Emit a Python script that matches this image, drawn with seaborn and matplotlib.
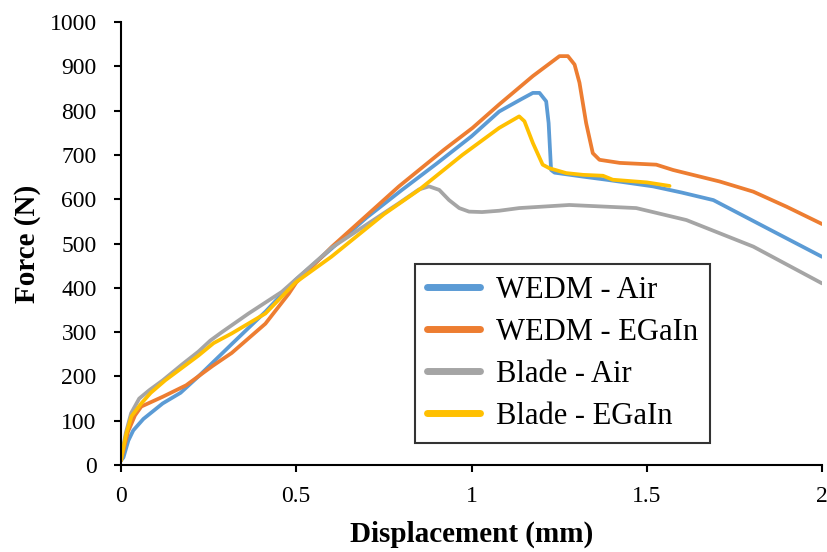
import matplotlib
matplotlib.use('Agg')
import matplotlib.pyplot as plt
import seaborn as sns
import pandas as pd

# values (displacement mm, force N)
wedm_air_x = [0.0, 0.007, 0.021, 0.035, 0.064, 0.119, 0.17, 0.221, 0.316, 0.412, 0.498, 0.6, 0.7, 0.8, 0.9, 1.0,
              1.079, 1.14, 1.175, 1.194, 1.213, 1.22, 1.227, 1.237, 1.318, 1.385, 1.518, 1.6, 1.69, 1.852, 2.0]
wedm_air_y = [10, 17, 55, 78, 104, 139, 163, 200, 273, 346, 418, 488, 558, 620, 680, 742,
              798, 825, 840, 840, 821, 772, 666, 660, 651, 644, 629, 615, 598, 531, 470]

wedm_egain_x = [0.0, 0.006, 0.02, 0.04, 0.058, 0.119, 0.186, 0.262, 0.316, 0.412, 0.479, 0.5, 0.602, 0.793,
                0.922, 1.003, 1.079, 1.175, 1.251, 1.275, 1.294, 1.308, 1.327, 1.346, 1.365, 1.423, 1.527,
                1.575, 1.708, 1.804, 1.899, 2.0]
wedm_egain_y = [10, 30, 75, 112, 132, 154, 180, 224, 253, 319, 387, 412, 493, 629,
                712, 761, 814, 878, 923, 923, 904, 863, 772, 704, 689, 682, 678,
                666, 640, 617, 583, 544]

blade_air_x = [0.0, 0.003, 0.014, 0.029, 0.052, 0.081, 0.119, 0.176, 0.221, 0.255, 0.288, 0.364, 0.459, 0.6,
               0.793, 0.85, 0.879, 0.908, 0.936, 0.965, 0.993, 1.03, 1.079, 1.136, 1.279, 1.47, 1.613, 1.804, 2.0]
blade_air_y = [10, 28, 73, 117, 150, 169, 191, 228, 256, 281, 300, 342, 391, 490,
               591, 622, 629, 621, 598, 580, 572, 571, 574, 580, 587, 580, 553, 493, 410]

blade_egain_x = [0.0, 0.004, 0.015, 0.03, 0.059, 0.085, 0.126, 0.221, 0.264, 0.316, 0.412, 0.498, 0.6, 0.75,
                 0.85, 0.974, 1.079, 1.136, 1.151, 1.175, 1.203, 1.222, 1.27, 1.318, 1.375, 1.403, 1.5, 1.565]
blade_egain_y = [10, 28, 70, 110, 140, 163, 191, 247, 275, 297, 342, 412, 470, 566,
                 621, 700, 761, 787, 776, 727, 678, 670, 659, 655, 653, 644, 638, 630]

labels = ['WEDM - Air', 'WEDM - EGaIn', 'Blade - Air', 'Blade - EGaIn']
colors = ['#5B9BD5', '#ED7D31', '#A5A5A5', '#FFC000']
series = [(wedm_air_x, wedm_air_y), (wedm_egain_x, wedm_egain_y),
          (blade_air_x, blade_air_y), (blade_egain_x, blade_egain_y)]

sns.set_style('white')
plt.rcParams['font.family'] = ['Liberation Serif', 'DejaVu Serif']
plt.rcParams['text.color'] = 'black'
plt.rcParams['axes.labelcolor'] = 'black'
plt.rcParams['xtick.color'] = 'black'
plt.rcParams['ytick.color'] = 'black'

fig = plt.figure(figsize=(8.28, 5.52), dpi=100)
ax = fig.add_axes([0.1461, 0.1576, 0.8467, 0.8025])

for (xs, ys), lab, col in zip(series, labels, colors):
    df = pd.DataFrame({'x': xs, 'y': ys})
    sns.lineplot(data=df, x='x', y='y', sort=False, ax=ax, color=col, lw=2.7, label=lab)

ax.set_xlim(0, 2)
ax.set_ylim(0, 1000)
ax.set_xticks([0, 0.5, 1, 1.5, 2])
ax.set_xticklabels(['0', '0.5', '1', '1.5', '2'])
ax.set_yticks(range(0, 1001, 100))
ax.set_xlabel('Displacement (mm)', fontsize=21, fontweight='bold', labelpad=10)
ax.set_ylabel('Force (N)', fontsize=21, fontweight='bold', labelpad=6)
ax.tick_params(labelsize=17, direction='out', length=5, width=1.5,
               color='black', labelcolor='black', left=True, bottom=True)
ax.tick_params(axis='x', pad=10)
ax.tick_params(axis='y', pad=12.5)
for s in ['top', 'right']:
    ax.spines[s].set_visible(False)
for s in ['left', 'bottom']:
    ax.spines[s].set_color('black')
    ax.spines[s].set_linewidth(1.5)

leg = ax.legend(loc='upper left', bbox_to_anchor=(0.419, 0.454), borderaxespad=0,
                fontsize=22, frameon=True, fancybox=False, handlelength=1.75, handletextpad=0.5,
                borderpad=0.4, labelspacing=0.42, edgecolor='black')
leg.get_frame().set_linewidth(1.5)
for t in leg.get_texts():
    t.set_color('black')
for h in leg.get_lines():
    h.set_linewidth(5)

fig.savefig('out.png', dpi=100)
